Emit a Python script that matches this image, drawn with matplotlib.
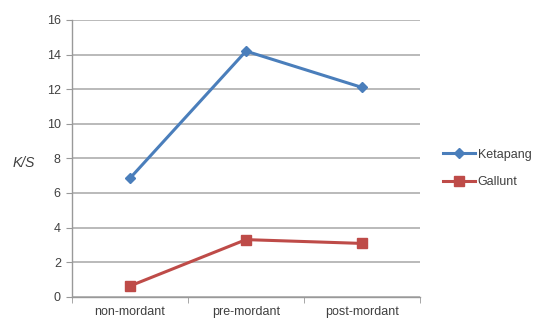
import matplotlib.pyplot as plt
from matplotlib.ticker import FixedLocator, NullFormatter

# catégories et valeurs K/S
categories = ['non-mordant', 'pre-mordant', 'post-mordant']
ketapang = [6.85, 14.2, 12.1]
gallunt = [0.62, 3.3, 3.08]

plt.rcParams['font.family'] = ['Liberation Sans', 'DejaVu Sans']
text_color = '#404040'
grid_color = '#b4b4b4'

fig = plt.figure(figsize=(5.38, 3.25), dpi=100)
ax = fig.add_axes([0.1338, 0.0871, 0.6469, 0.8514])

x = range(len(categories))
ax.plot(x, ketapang, color='#4A7EBB', lw=2.2, marker='D', ms=5.5, label='Ketapang')
ax.plot(x, gallunt, color='#BE4B48', lw=2.2, marker='s', ms=7, label='Gallunt')

ax.set_xlim(-0.5, 2.5)
ax.set_ylim(0, 16)
ax.set_yticks(range(0, 17, 2))
ax.set_xticks(list(x))
ax.set_xticklabels(categories)
ax.xaxis.set_minor_locator(FixedLocator([-0.5, 0.5, 1.5, 2.5]))
ax.xaxis.set_minor_formatter(NullFormatter())

ax.grid(axis='y', color=grid_color, lw=1.3)
ax.set_axisbelow(True)
for s in ['top', 'right']:
    ax.spines[s].set_visible(False)
for s in ['left', 'bottom']:
    ax.spines[s].set_color('#999999')
    ax.spines[s].set_linewidth(1)

ax.tick_params(axis='y', colors='#999999', labelcolor=text_color, labelsize=9, length=4, pad=4)
ax.tick_params(axis='x', which='major', length=0, labelcolor=text_color, labelsize=9, pad=7)
ax.tick_params(axis='x', which='minor', colors='#999999', length=4)

ax.set_ylabel('K/S', style='italic', color=text_color, fontsize=10, rotation=0,
              ha='center', va='center')
ax.yaxis.set_label_coords(-0.138, 0.483)

ax.legend(loc='center left', bbox_to_anchor=(1.035, 0.463), frameon=False, fontsize=9,
          labelcolor=text_color, handlelength=2.5, handletextpad=0.25, labelspacing=1.25)

plt.savefig('out.png', dpi=100)
